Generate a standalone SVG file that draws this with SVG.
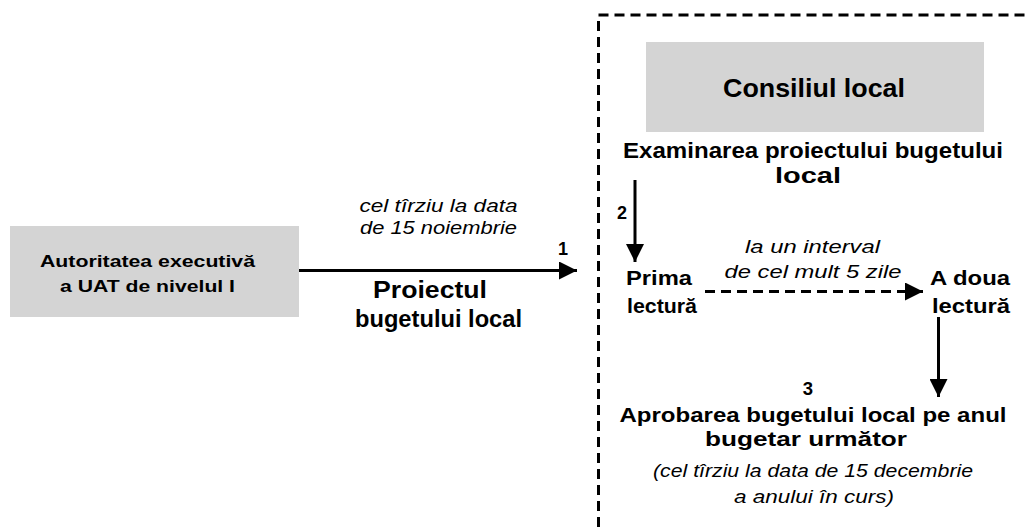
<svg xmlns="http://www.w3.org/2000/svg" width="1028" height="528" viewBox="0 0 1028 528">
<style>
.box{fill:#d4d4d4;stroke:none}
.b{font-family:"Liberation Sans",Arial,sans-serif;font-weight:bold;fill:#000;text-anchor:middle}
.i{font-family:"Liberation Sans",Arial,sans-serif;font-style:italic;fill:#000;text-anchor:middle}
.ln{stroke:#000;stroke-width:3;fill:none}
.dash{stroke-dasharray:10 6}
</style>
<defs>
<marker id="ah" markerWidth="6" markerHeight="6" refX="6" refY="3" orient="auto" markerUnits="strokeWidth">
<path d="M0,0 L6,3 L0,6 Z" fill="#000"/>
</marker>
</defs>
<rect x="0" y="0" width="1028" height="528" fill="#fff"/>
<g id="container">
<rect x="598.5" y="15" width="460" height="540" class="ln dash"/>
</g>
<g id="node-autoritatea">
<rect x="10" y="226" width="289" height="91" class="box"/>
<text x="147.5" y="267" class="b" font-size="17" textLength="215" lengthAdjust="spacingAndGlyphs">Autoritatea executivă</text>
<text x="147.5" y="291.5" class="b" font-size="17" textLength="175" lengthAdjust="spacingAndGlyphs">a UAT de nivelul I</text>
</g>
<g id="node-consiliul">
<rect x="646" y="42" width="338" height="90" class="box"/>
<text x="814" y="97" class="b" font-size="26" textLength="182" lengthAdjust="spacingAndGlyphs">Consiliul local</text>
</g>
<g id="node-examinarea">
<text x="813" y="158" class="b" font-size="21.5" textLength="380" lengthAdjust="spacingAndGlyphs">Examinarea proiectului bugetului</text>
<text x="808" y="183" class="b" font-size="21.5" textLength="66" lengthAdjust="spacingAndGlyphs">local</text>
</g>
<g id="node-prima">
<text x="659" y="285" class="b" font-size="21" textLength="66" lengthAdjust="spacingAndGlyphs">Prima</text>
<text x="662" y="313" class="b" font-size="21" textLength="70" lengthAdjust="spacingAndGlyphs">lectură</text>
</g>
<g id="node-adoua">
<text x="970" y="285" class="b" font-size="21" textLength="80" lengthAdjust="spacingAndGlyphs">A doua</text>
<text x="971" y="313" class="b" font-size="21" textLength="78" lengthAdjust="spacingAndGlyphs">lectură</text>
</g>
<g id="node-aprobarea">
<text x="813" y="421.5" class="b" font-size="21" textLength="387" lengthAdjust="spacingAndGlyphs">Aprobarea bugetului local pe anul</text>
<text x="806" y="446" class="b" font-size="21" textLength="202" lengthAdjust="spacingAndGlyphs">bugetar următor</text>
<text x="813" y="476.5" class="i" font-size="18" textLength="320" lengthAdjust="spacingAndGlyphs">(cel tîrziu la data de 15 decembrie</text>
<text x="814" y="503" class="i" font-size="18" textLength="160" lengthAdjust="spacingAndGlyphs">a anului în curs)</text>
</g>
<g id="connectors">
<line x1="299" y1="270.5" x2="577" y2="270.5" class="ln" marker-end="url(#ah)"/>
<line x1="635" y1="180" x2="635" y2="262" class="ln" marker-end="url(#ah)"/>
<line x1="705" y1="291.5" x2="923" y2="291.5" class="ln dash" marker-end="url(#ah)"/>
<line x1="938.5" y1="317" x2="938.5" y2="397" class="ln" marker-end="url(#ah)"/>
</g>
<g id="labels">
<text x="438.5" y="211.5" class="i" font-size="18" textLength="158" lengthAdjust="spacingAndGlyphs">cel tîrziu la data</text>
<text x="438.5" y="233.5" class="i" font-size="18" textLength="157" lengthAdjust="spacingAndGlyphs">de 15 noiembrie</text>
<text x="563" y="255" class="b" font-size="18">1</text>
<text x="622" y="219" class="b" font-size="18">2</text>
<text x="812.5" y="253" class="i" font-size="19" textLength="135" lengthAdjust="spacingAndGlyphs">la un interval</text>
<text x="813" y="278" class="i" font-size="19" textLength="177" lengthAdjust="spacingAndGlyphs">de cel mult 5 zile</text>
<text x="808" y="395" class="b" font-size="18.5">3</text>
<text x="430" y="298" class="b" font-size="23" textLength="114" lengthAdjust="spacingAndGlyphs">Proiectul</text>
<text x="438.5" y="327" class="b" font-size="23" textLength="167" lengthAdjust="spacingAndGlyphs">bugetului local</text>
</g>
</svg>
